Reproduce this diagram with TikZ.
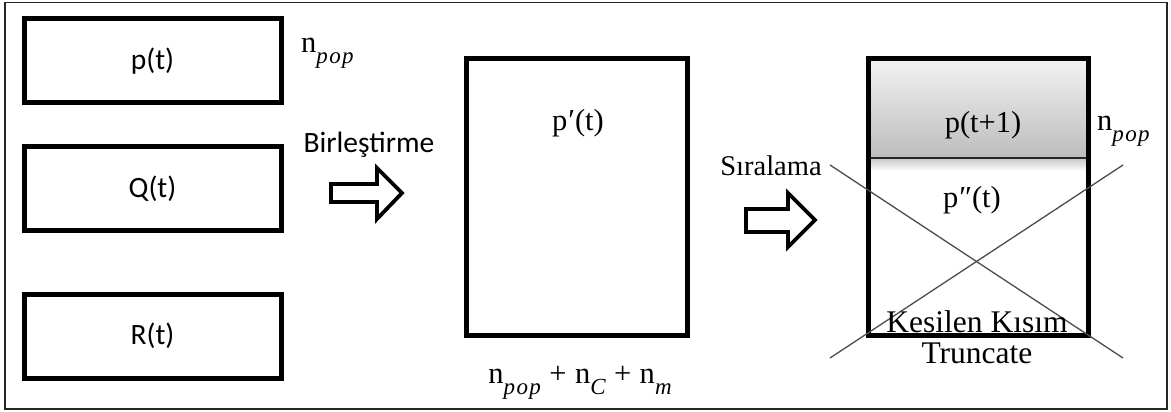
\documentclass[tikz,border=0pt]{standalone}
\usepackage{fontspec}
\setmainfont{Liberation Serif}
\newfontfamily\calfont{Carlito}
\newcommand\lowsub[1]{\raisebox{-11pt}{\fontsize{23}{25}\selectfont\itshape\addfontfeature{LetterSpace=6}#1}}
\begin{document}
\begin{tikzpicture}[x=1pt,y=-1pt,
  box/.style={draw, line width=5pt, rectangle, inner sep=0pt},
  sanslbl/.style={font=\calfont\fontsize{29.5}{31}\selectfont},
  seriflbl/.style={font=\fontsize{30.5}{32}\selectfont, anchor=base, inner sep=0pt},
  blockarrow/.style={draw, line width=3.8pt, line join=miter, fill=white},
  crossline/.style={draw=black!70, line width=1.3pt},
  frameline/.style={draw=black!85, line width=1.5pt}]
\useasboundingbox (0,0) rectangle (1171,412);
\draw[frameline] (5,2.5) rectangle (1167,409);

% left boxes
\node[box, sanslbl, minimum width=257pt, minimum height=84pt] (pt) at (152.5,61) {p(t)};
\node[box, sanslbl, minimum width=257pt, minimum height=84pt] (qt) at (152.5,188.5) {Q(t)};
\node[box, sanslbl, minimum width=257pt, minimum height=84pt] (rt) at (152.5,336) {R(t)};
\node[seriflbl, anchor=base west] (npop1) at (301,53) {n\lowsub{pop}};

% first arrow
\node[sanslbl, anchor=base, inner sep=0pt] (birl) at (369,152) {Birleştirme};
\draw[blockarrow] (331,184) -- (377,184) -- (377,168) -- (402,193) -- (377,219) -- (377,202) -- (331,202) -- cycle;

% middle box
\node[box, minimum width=221pt, minimum height=277pt] (mid) at (577,197) {};
\node[seriflbl] (pprime) at (578,131) {p\kern1pt′(t)};
\node[seriflbl] (nsum) at (580,383) {n\lowsub{pop}\;+\;n\lowsub{C}\;+\;n\lowsub{m}};

% second arrow
\node[seriflbl, font=\fontsize{28.5}{30}\selectfont] (sira) at (771,175) {Sıralama};
\draw[blockarrow] (746,209) -- (788,209) -- (788,193) -- (815,220) -- (788,247) -- (788,232) -- (746,232) -- cycle;

% right box
\shade[top color=gray!10, bottom color=gray!52] (869,59) rectangle (1088,158);
\shade[top color=gray!40, bottom color=white] (869,159) rectangle (1088,171);
\draw[line width=2pt, black!85] (869,158) -- (1088,158);
\node[box, minimum width=220pt, minimum height=277pt] (right) at (978.5,197) {};
\node[seriflbl] (pnext) at (983,132) {p(t+1)};
\node[seriflbl, anchor=base west] (npop2) at (1097,130) {n\lowsub{pop}};
\node[seriflbl] (pdd) at (972,207) {p\kern1pt″(t)};
\coordinate (c1) at (830,165);
\coordinate (c2) at (1123,358);
\coordinate (c3) at (830,358);
\coordinate (c4) at (1123,165);
\draw[crossline] (c1) -- (c2);
\draw[crossline] (c3) -- (c4);
\node[seriflbl, font=\fontsize{31.5}{33}\selectfont] (kes) at (977,332) {Kesilen Kısım};
\node[seriflbl, font=\fontsize{31.5}{33}\selectfont] (trunc) at (977,363) {Truncate};
\end{tikzpicture}
\end{document}
